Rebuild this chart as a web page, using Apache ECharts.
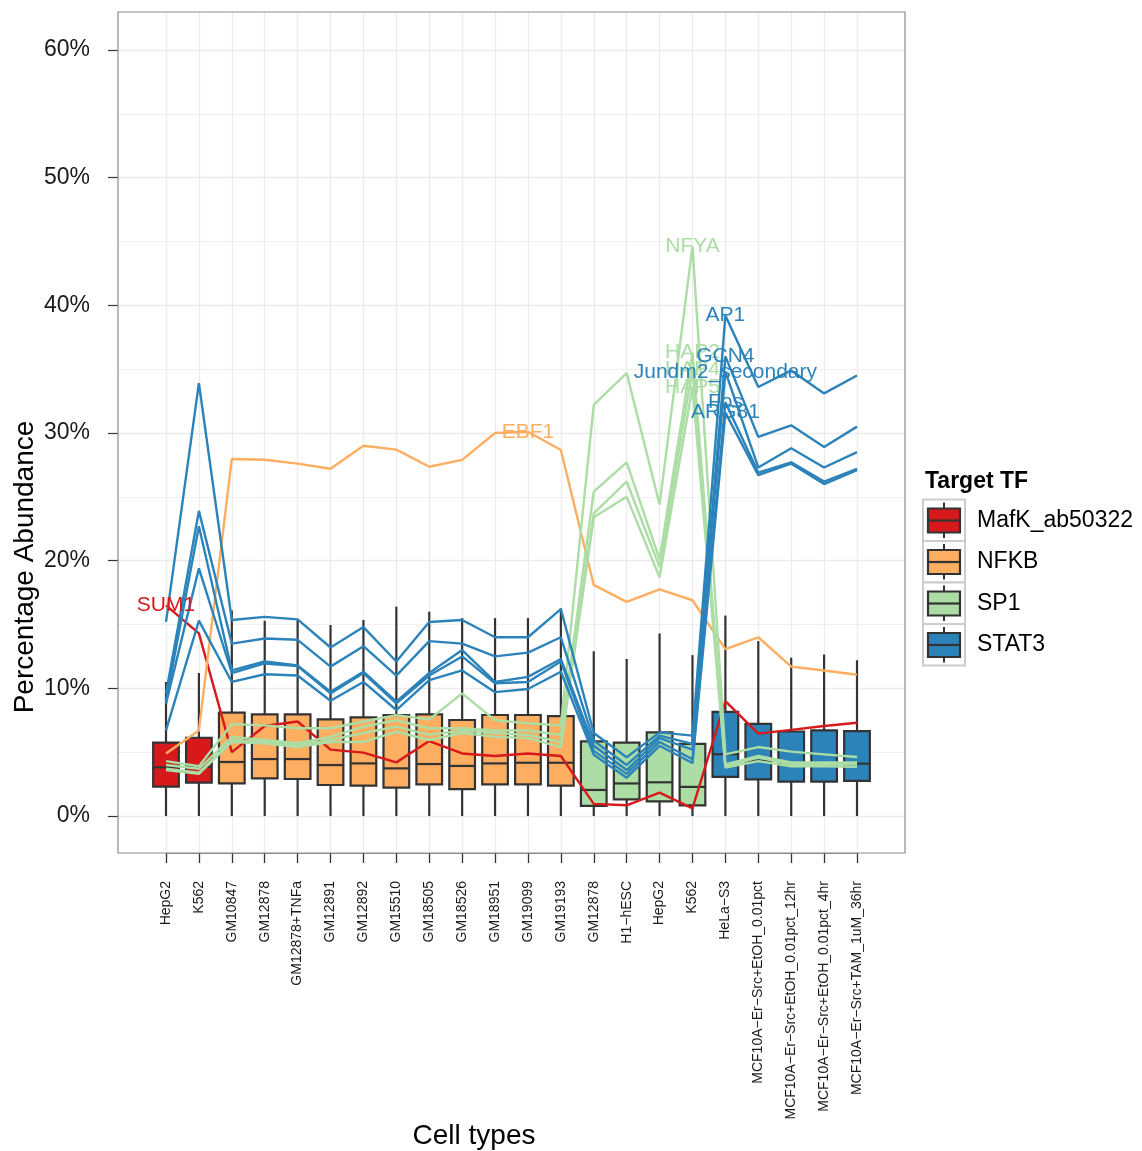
<!DOCTYPE html>
<html>
<head>
<meta charset="utf-8">
<script src="https://cdn.jsdelivr.net/npm/echarts@6/dist/echarts.min.js"></script>
<style>
  html, body { margin: 0; padding: 0; background: #ffffff; }
  #chart { width: 1142px; height: 1151px; }
</style>
</head>
<body>
<div id="chart"></div>
<script>
// ---- data ----
const categories = [
  "HepG2", "K562",
  "GM10847", "GM12878", "GM12878+TNFa", "GM12891", "GM12892", "GM15510",
  "GM18505", "GM18526", "GM18951", "GM19099", "GM19193",
  "GM12878", "H1\u2212hESC", "HepG2", "K562",
  "HeLa\u2212S3",
  "MCF10A\u2212Er\u2212Src+EtOH_0.01pct",
  "MCF10A\u2212Er\u2212Src+EtOH_0.01pct_12hr",
  "MCF10A\u2212Er\u2212Src+EtOH_0.01pct_4hr",
  "MCF10A\u2212Er\u2212Src+TAM_1uM_36hr"
];

// Target TF of each cell-type column
const boxTF = [
  "MafK_ab50322", "MafK_ab50322",
  "NFKB", "NFKB", "NFKB", "NFKB", "NFKB", "NFKB", "NFKB", "NFKB", "NFKB", "NFKB", "NFKB",
  "SP1", "SP1", "SP1", "SP1",
  "STAT3", "STAT3", "STAT3", "STAT3", "STAT3"
];

// Box statistics (percent)
const boxLow    = [0, 0, 0, 0, 0, 0, 0, 0, 0, 0, 0, 0, 0, 0, 0, 0, 0, 0, 0, 0, 0, 0];
const boxQ1     = [2.30, 2.61, 2.56, 2.95, 2.90, 2.43, 2.38, 2.22, 2.48, 2.11, 2.48, 2.48, 2.38, 0.80, 1.30, 1.14, 0.84, 3.07, 2.87, 2.70, 2.70, 2.75];
const boxMedian = [3.81, 3.86, 4.23, 4.46, 4.46, 3.99, 4.12, 3.73, 4.07, 3.92, 4.12, 4.17, 4.17, 2.04, 2.55, 2.64, 2.28, 4.84, 4.33, 4.12, 4.10, 4.10];
const boxQ3     = [5.74, 6.13, 8.09, 7.96, 7.96, 7.57, 7.73, 7.91, 7.96, 7.52, 7.91, 7.91, 7.83, 5.84, 5.74, 6.55, 5.65, 8.15, 7.22, 6.62, 6.70, 6.65];
const boxHigh   = [10.5, 11.2, 16.1, 15.3, 15.4, 14.96, 15.35, 16.4, 16.0, 15.5, 15.5, 15.5, 16.26, 12.9, 12.3, 14.3, 12.6, 15.7, 13.7, 12.4, 12.65, 12.2];

// Per-motif abundance across cell types (percent)
const lineSUM1   = [16.5, 14.3, 5.0, 7.05, 7.4, 5.2, 4.96, 4.2, 5.87, 4.9, 4.7, 4.9, 4.7, 0.95, 0.84, 1.83, 0.6, 9.0, 6.45, 6.75, 7.05, 7.3];
const lineEBF1   = [4.9, 6.7, 27.96, 27.9, 27.6, 27.2, 29.0, 28.7, 27.36, 27.9, 30.0, 30.1, 28.67, 18.1, 16.77, 17.76, 16.9, 13.07, 14.0, 11.7, 11.4, 11.06];
const lineNFYA   = [4.3, 3.9, 7.2, 7.1, 6.87, 6.87, 7.4, 7.9, 7.57, 9.6, 7.5, 7.26, 7.1, 32.2, 34.7, 24.4, 44.6, 4.83, 5.4, 5.04, 4.83, 4.62];
const lineHAP2   = [4.0, 3.7, 6.2, 5.95, 5.7, 6.2, 7.0, 7.5, 6.87, 6.87, 6.7, 6.7, 6.35, 25.4, 27.7, 20.1, 36.3, 4.05, 4.7, 4.2, 4.2, 4.2];
const lineHAP4   = [3.7, 3.4, 5.95, 5.8, 5.56, 5.95, 6.5, 7.0, 6.35, 6.7, 6.5, 6.35, 5.8, 23.7, 26.2, 19.5, 35.0, 3.9, 4.57, 4.05, 4.05, 4.05];
const lineHAP5   = [3.6, 3.3, 5.8, 5.7, 5.4, 5.8, 5.8, 6.6, 5.95, 6.5, 6.2, 6.1, 5.4, 23.4, 25.0, 18.7, 33.6, 3.8, 4.3, 3.9, 3.9, 3.85];
const lineAP1    = [15.2, 33.9, 15.35, 15.6, 15.4, 13.2, 14.8, 12.1, 15.2, 15.35, 14.0, 14.0, 16.2, 6.5, 4.6, 6.55, 6.3, 39.2, 33.6, 34.9, 33.1, 34.5];
const lineGCN4   = [9.6, 23.9, 13.5, 13.9, 13.8, 11.7, 13.3, 11.0, 13.7, 13.5, 12.5, 12.8, 14.0, 5.9, 4.0, 6.3, 5.65, 36.0, 29.7, 30.6, 28.9, 30.5];
const lineJundm2 = [9.0, 22.7, 11.4, 12.1, 11.8, 9.74, 11.3, 8.96, 11.2, 13.0, 10.5, 10.9, 12.3, 5.5, 3.6, 6.1, 5.2, 34.8, 27.3, 28.8, 27.3, 28.5];
const lineFos    = [8.8, 19.4, 11.2, 11.95, 11.75, 9.6, 11.2, 8.83, 11.0, 12.5, 10.4, 10.5, 12.1, 5.1, 3.3, 5.8, 4.45, 32.4, 26.9, 27.7, 26.2, 27.2];
const lineARG81  = [6.7, 15.3, 10.5, 11.1, 11.0, 9.03, 10.5, 8.3, 10.65, 11.4, 9.7, 9.95, 11.3, 4.8, 3.0, 5.5, 4.15, 31.6, 26.7, 27.6, 26.0, 27.1];

const motifNames = ["SUM1", "EBF1", "NFYA", "HAP2", "HAP4", "HAP5", "AP1", "GCN4", "Jundm2_secondary", "Fos", "ARG81"];
const motifTF    = ["MafK_ab50322", "NFKB", "SP1", "SP1", "SP1", "SP1", "STAT3", "STAT3", "STAT3", "STAT3", "STAT3"];
const motifValues = [lineSUM1, lineEBF1, lineNFYA, lineHAP2, lineHAP4, lineHAP5, lineAP1, lineGCN4, lineJundm2, lineFos, lineARG81];

const tfNames  = ["MafK_ab50322", "NFKB", "SP1", "STAT3"];
const tfColors = ["#D7191C", "#FDAE61", "#ABDDA4", "#2B83BA"];

const yTicks = [0, 10, 20, 30, 40, 50, 60];

// ---- chart ----
const FONT = "Liberation Sans, Arial, Helvetica, sans-serif";
const colorOf = tf => tfColors[tfNames.indexOf(tf)];

// Panel frame
const PANEL = { left: 118, top: 12, right: 905, bottom: 853 };
// Vertical placement of the y scale: 0% and 60%
const Y0PX = 816, Y60PX = 50;
const yMaxTick = yTicks[yTicks.length - 1];
const pxPerUnit = (Y0PX - Y60PX) / yMaxTick;
const yMinData = -(PANEL.bottom - Y0PX) / pxPerUnit;
const yMaxData = yMaxTick + (Y60PX - PANEL.top) / pxPerUnit;
// Horizontal placement of first / last column
const X0PX = 166, XNPX = 857;

const chart = echarts.init(document.getElementById('chart'), null, { renderer: 'canvas' });

const boxData = categories.map((c, i) => [i, boxLow[i], boxQ1[i], boxMedian[i], boxQ3[i], boxHigh[i]]);

const series = [];

series.push({
  type: 'custom',
  name: 'boxes',
  xAxisIndex: 2, yAxisIndex: 2,
  z: 2,
  encode: { x: 0, y: [1, 2, 3, 4, 5] },
  data: boxData,
  renderItem: function (params, api) {
    const x = api.value(0);
    const lo = api.coord([x, api.value(1)]);
    const q1 = api.coord([x, api.value(2)]);
    const md = api.coord([x, api.value(3)]);
    const q3 = api.coord([x, api.value(4)]);
    const hi = api.coord([x, api.value(5)]);
    const w = api.size([1, 0])[0] * 0.78;
    const fill = colorOf(boxTF[params.dataIndex]);
    const stroke = { stroke: '#333333', lineWidth: 2.2 };
    return {
      type: 'group',
      children: [
        { type: 'line', shape: { x1: lo[0], y1: lo[1], x2: q1[0], y2: q1[1] }, style: stroke },
        { type: 'line', shape: { x1: q3[0], y1: q3[1], x2: hi[0], y2: hi[1] }, style: stroke },
        { type: 'rect', shape: { x: q1[0] - w / 2, y: q3[1], width: w, height: q1[1] - q3[1] },
          style: Object.assign({ fill: fill }, stroke) },
        { type: 'line', shape: { x1: md[0] - w / 2, y1: md[1], x2: md[0] + w / 2, y2: md[1] }, style: stroke }
      ]
    };
  }
});

motifNames.forEach((name, k) => {
  const vals = motifValues[k];
  const color = colorOf(motifTF[k]);
  const top = vals.indexOf(Math.max.apply(null, vals));
  series.push({
    type: 'line',
    name: name,
    xAxisIndex: 2, yAxisIndex: 2,
    z: 3,
    data: vals.map((v, i) => [i, v]),
    symbol: 'none',
    lineStyle: { color: color, width: 2.4 },
    silent: true,
    markPoint: {
      symbol: 'circle',
      symbolSize: 1,
      itemStyle: { color: 'rgba(0,0,0,0)' },
      label: {
        show: true, position: 'inside', formatter: name,
        color: color, fontSize: 21, fontFamily: FONT
      },
      data: [{ coord: [top, vals[top]] }]
    }
  });
});

// Legend keys
const legendGraphics = [
  { type: 'text', left: 925, top: 470,
    style: { text: 'Target TF', font: 'bold 23px ' + FONT, fill: '#000000' } }
];
tfNames.forEach((tf, k) => {
  const ky = 499.5 + k * 41.5;
  const cx = 944, cy = ky + 21;
  legendGraphics.push(
    { type: 'rect', shape: { x: 923, y: ky, width: 42, height: 41.5 },
      style: { fill: '#ffffff', stroke: '#cccccc', lineWidth: 2 } },
    { type: 'line', shape: { x1: cx, y1: ky + 3, x2: cx, y2: ky + 38.5 },
      style: { stroke: '#333333', lineWidth: 2 } },
    { type: 'rect', shape: { x: cx - 16, y: cy - 12, width: 32, height: 24 },
      style: { fill: tfColors[k], stroke: '#333333', lineWidth: 2.2 } },
    { type: 'line', shape: { x1: cx - 16, y1: cy, x2: cx + 16, y2: cy },
      style: { stroke: '#333333', lineWidth: 2.2 } },
    { type: 'text', x: 977, y: cy,
      style: { text: tf, font: '23px ' + FONT, fill: '#000000', textVerticalAlign: 'middle', verticalAlign: 'middle' } }
  );
});

const option = {
  animation: false,
  backgroundColor: '#ffffff',
  grid: [
    // panel frame
    { left: PANEL.left, top: PANEL.top, width: PANEL.right - PANEL.left, height: PANEL.bottom - PANEL.top,
      show: true, borderColor: '#8c8c8c', borderWidth: 1.2, backgroundColor: 'transparent', z: 4 },
    // y scale and horizontal grid lines
    { left: PANEL.left, top: Y60PX, width: PANEL.right - PANEL.left, height: Y0PX - Y60PX },
    // x scale, vertical grid lines and data
    { left: X0PX, top: PANEL.top, width: XNPX - X0PX, height: PANEL.bottom - PANEL.top }
  ],
  xAxis: [
    { gridIndex: 0, type: 'value', min: 0, max: 1, show: false },
    { gridIndex: 1, type: 'value', min: 0, max: 1, show: false },
    { gridIndex: 2, type: 'value', min: 0, max: categories.length - 1, interval: 1,
      position: 'bottom',
      axisLine: { show: true, onZero: false, lineStyle: { color: '#8c8c8c', width: 1.2 } },
      axisTick: { show: true, inside: false, length: 10, lineStyle: { color: '#333333', width: 1.3 } },
      splitLine: { show: true, lineStyle: { color: '#ebebeb', width: 1.3 } },
      axisLabel: {
        rotate: 90, margin: 28, fontSize: 14, color: '#1a1a1a', fontFamily: FONT,
        showMinLabel: true, showMaxLabel: true,
        formatter: v => categories[v]
      }
    }
  ],
  yAxis: [
    { gridIndex: 0, type: 'value', min: 0, max: 1, show: false },
    { gridIndex: 1, type: 'value', min: 0, max: yMaxTick, interval: 10,
      position: 'left',
      axisLine: { show: false, onZero: false },
      axisTick: { show: true, length: 10, lineStyle: { color: '#333333', width: 1.2 } },
      axisLabel: { margin: 28, fontSize: 23, color: '#1a1a1a', fontFamily: FONT,
        formatter: v => (yTicks.indexOf(v) >= 0 ? v + '%' : '') },
      splitLine: { show: true, lineStyle: { color: '#ebebeb', width: 1.3 } },
      minorTick: { show: false, splitNumber: 2 },
      minorSplitLine: { show: true, lineStyle: { color: '#efefef', width: 1.1 } }
    },
    { gridIndex: 2, type: 'value', min: yMinData, max: yMaxData, show: false, splitLine: { show: false } }
  ],
  graphic: [
    { type: 'text', x: 25, y: 567, rotation: Math.PI / 2,
      style: { text: 'Percentage Abundance', font: '28px ' + FONT, fill: '#000000',
        textAlign: 'center', textVerticalAlign: 'middle', align: 'center', verticalAlign: 'middle' } },
    { type: 'text', x: 474, y: 1136,
      style: { text: 'Cell types', font: '28px ' + FONT, fill: '#000000',
        textAlign: 'center', textVerticalAlign: 'middle', align: 'center', verticalAlign: 'middle' } }
  ].concat(legendGraphics),
  series: series
};

chart.setOption(option);
</script>
</body>
</html>
